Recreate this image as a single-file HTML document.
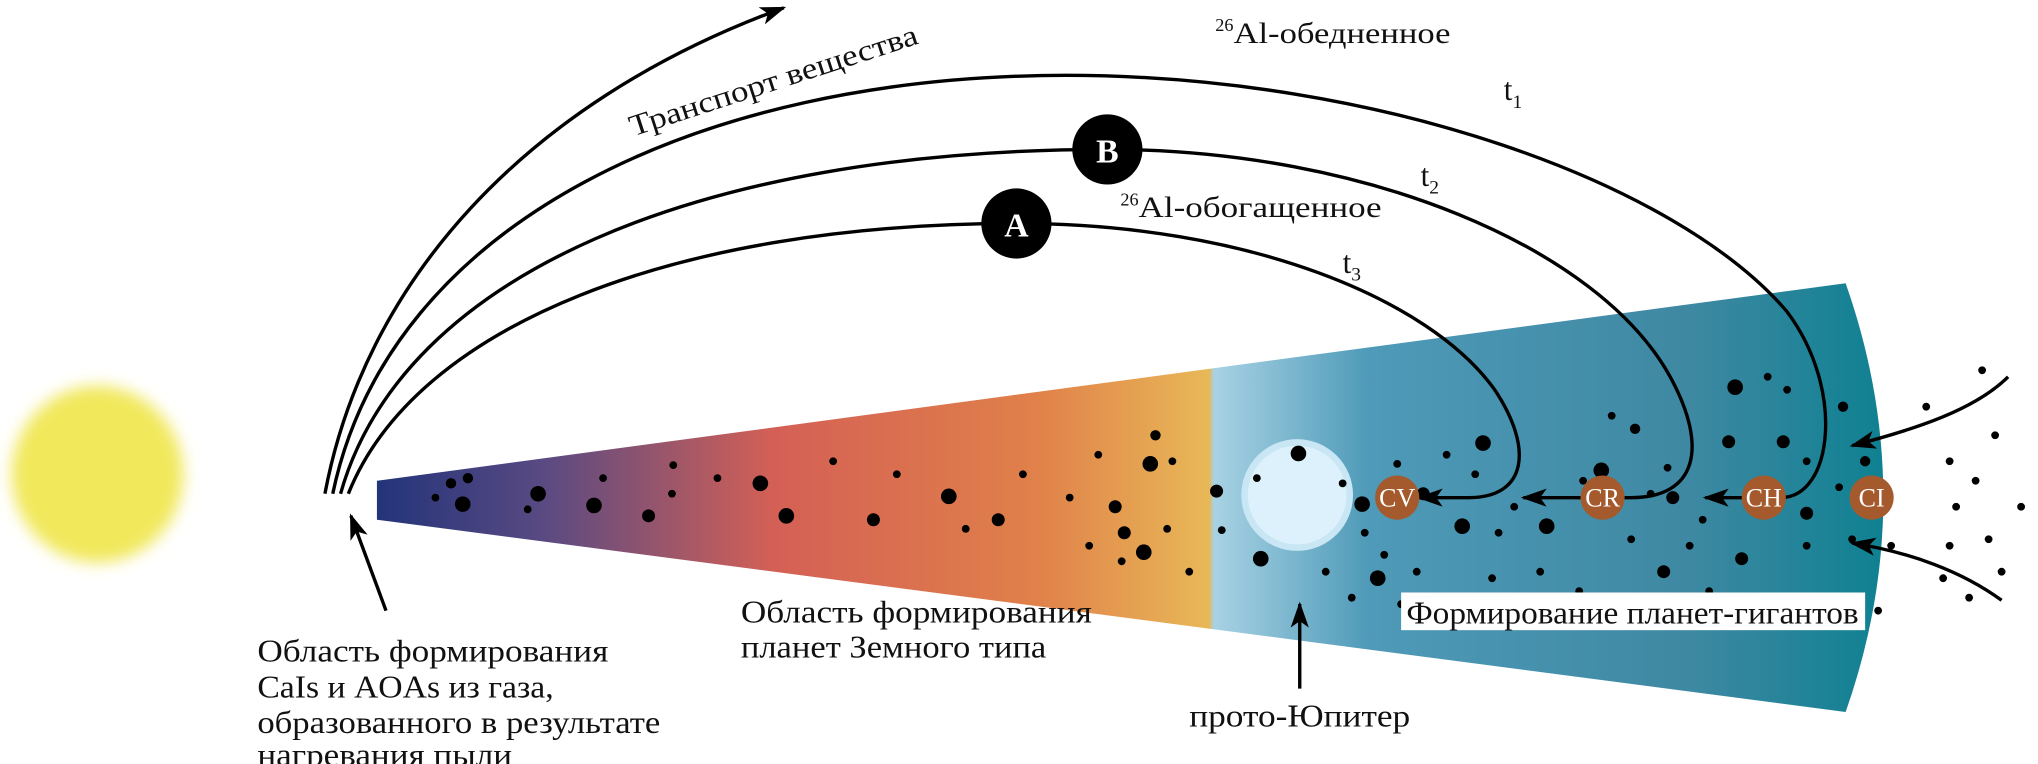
<!DOCTYPE html>
<html><head><meta charset="utf-8"><style>
html,body{margin:0;padding:0;background:#fff;}
svg{display:block;}
text{font-family:"Liberation Serif",serif;fill:#111;}
</style></head><body>
<svg width="2038" height="764" viewBox="0 0 1568 588" preserveAspectRatio="none">
<defs>
<filter id="blur" x="-30%" y="-30%" width="160%" height="160%"><feGaussianBlur stdDeviation="6"/></filter>
<linearGradient id="disk" x1="290" y1="0" x2="1465" y2="0" gradientUnits="userSpaceOnUse">
<stop offset="0" stop-color="#23347a"/>
<stop offset="0.11" stop-color="#5a4a82"/>
<stop offset="0.26" stop-color="#d46055"/>
<stop offset="0.43" stop-color="#e0804a"/>
<stop offset="0.545" stop-color="#e8b857"/>
<stop offset="0.548" stop-color="#a8d2e4"/>
<stop offset="0.65" stop-color="#4e9ab8"/>
<stop offset="0.86" stop-color="#3e88a2"/>
<stop offset="1" stop-color="#0a8090"/>
</linearGradient>
<marker id="ah" viewBox="0 0 20 14" refX="18" refY="7" markerWidth="20" markerHeight="14" markerUnits="userSpaceOnUse" orient="auto">
<path d="M0,0 L20,7 L0,14 L5,7 Z" fill="#000"/>
</marker>
</defs>
<ellipse cx="75" cy="365" rx="66" ry="68" fill="#f1e85c" filter="url(#blur)"/>
<path d="M290,370 L1420,218 Q1478,383 1420,548 L290,400 Z" fill="url(#disk)"/>
<circle cx="998" cy="381" r="43" fill="#c8e6f4"/>
<circle cx="998" cy="381" r="38" fill="#dcf1fb"/>
<g fill="#000">
<circle cx="347" cy="372" r="4"/><circle cx="360" cy="368" r="4"/><circle cx="335" cy="383" r="3"/><circle cx="356" cy="388" r="6"/><circle cx="414" cy="380" r="6"/><circle cx="406" cy="392" r="3"/><circle cx="464" cy="368" r="3"/><circle cx="457" cy="389" r="6"/><circle cx="499" cy="397" r="5"/><circle cx="517" cy="380" r="3"/><circle cx="518" cy="358" r="3"/><circle cx="552" cy="368" r="3"/><circle cx="585" cy="372" r="6"/><circle cx="605" cy="397" r="6"/><circle cx="641" cy="355" r="3"/><circle cx="690" cy="365" r="3"/><circle cx="672" cy="400" r="5"/><circle cx="730" cy="382" r="6"/><circle cx="743" cy="407" r="3"/><circle cx="787" cy="365" r="3"/><circle cx="768" cy="400" r="5"/><circle cx="845" cy="350" r="3"/><circle cx="858" cy="390" r="5"/><circle cx="863" cy="432" r="3"/><circle cx="889" cy="335" r="4"/><circle cx="885" cy="357" r="6"/><circle cx="902" cy="355" r="3"/><circle cx="865" cy="410" r="5"/><circle cx="880" cy="425" r="6"/><circle cx="898" cy="407" r="3"/><circle cx="915" cy="440" r="3"/><circle cx="838" cy="420" r="3"/><circle cx="823" cy="383" r="3"/>
<circle cx="936" cy="378" r="5"/><circle cx="940" cy="408" r="3"/><circle cx="967" cy="368" r="3"/><circle cx="999" cy="349" r="6"/><circle cx="1033" cy="372" r="3"/><circle cx="1048" cy="388" r="6"/><circle cx="1075" cy="357" r="3"/><circle cx="1095" cy="380" r="5"/><circle cx="1113" cy="350" r="3"/><circle cx="1141" cy="341" r="6"/><circle cx="1135" cy="365" r="3"/><circle cx="1050" cy="410" r="3"/><circle cx="1065" cy="427" r="3"/><circle cx="1125" cy="405" r="6"/><circle cx="1153" cy="410" r="3"/><circle cx="1060" cy="445" r="6"/><circle cx="1078" cy="465" r="3"/><circle cx="970" cy="430" r="6"/><circle cx="1020" cy="440" r="3"/><circle cx="1040" cy="460" r="3"/><circle cx="1090" cy="440" r="3"/><circle cx="1148" cy="445" r="3"/><circle cx="1165" cy="390" r="3"/><circle cx="1190" cy="405" r="6"/><circle cx="1185" cy="440" r="3"/><circle cx="1175" cy="460" r="3"/><circle cx="1218" cy="370" r="3"/><circle cx="1232" cy="362" r="6"/><circle cx="1240" cy="320" r="3"/><circle cx="1258" cy="330" r="4"/><circle cx="1230" cy="395" r="4"/><circle cx="1255" cy="415" r="3"/><circle cx="1270" cy="380" r="3"/><circle cx="1283" cy="360" r="3"/><circle cx="1215" cy="455" r="3"/><circle cx="1260" cy="465" r="3"/><circle cx="1280" cy="440" r="5"/><circle cx="1300" cy="420" r="3"/><circle cx="1310" cy="400" r="3"/><circle cx="1287" cy="383" r="5"/><circle cx="1335" cy="298" r="6"/><circle cx="1360" cy="290" r="3"/><circle cx="1375" cy="300" r="3"/><circle cx="1330" cy="340" r="5"/><circle cx="1372" cy="340" r="5"/><circle cx="1390" cy="355" r="3"/><circle cx="1340" cy="430" r="5"/><circle cx="1315" cy="455" r="3"/><circle cx="1370" cy="470" r="6"/><circle cx="1340" cy="475" r="3"/><circle cx="1395" cy="460" r="3"/><circle cx="1418" cy="313" r="4"/><circle cx="1435" cy="355" r="4"/><circle cx="1415" cy="375" r="3"/><circle cx="1425" cy="415" r="3"/><circle cx="1390" cy="395" r="5"/><circle cx="1390" cy="420" r="3"/><circle cx="1445" cy="470" r="3"/><circle cx="1455" cy="420" r="3"/>
<circle cx="1525" cy="285" r="3"/><circle cx="1482" cy="313" r="3"/><circle cx="1535" cy="335" r="3"/><circle cx="1500" cy="355" r="3"/><circle cx="1520" cy="370" r="3"/><circle cx="1505" cy="390" r="3"/><circle cx="1555" cy="390" r="3"/><circle cx="1530" cy="415" r="3"/><circle cx="1500" cy="420" r="3"/><circle cx="1540" cy="440" r="3"/><circle cx="1515" cy="460" r="3"/><circle cx="1495" cy="445" r="3"/>
</g>
<g fill="none" stroke="#000" stroke-width="2.6">
<path d="M250,380 C280,220 400,80 603,6" marker-end="url(#ah)"/>
<path d="M256,380 C300,170 540,58 820,58 C1060,58 1290,140 1375,240 C1420,300 1410,383 1370,383 L1312,383" marker-end="url(#ah)"/>
<path d="M262,380 C310,210 540,115 852,115 C1050,115 1230,190 1285,290 C1315,345 1305,383 1255,383 L1172,383" marker-end="url(#ah)"/>
<path d="M268,380 C320,250 520,172 782,172 C960,172 1100,230 1150,300 C1180,345 1175,383 1130,383 L1092,383" marker-end="url(#ah)"/>
<path d="M1545,290 C1520,315 1475,330 1425,343" marker-end="url(#ah)"/>
<path d="M1540,462 C1510,440 1470,425 1425,418" marker-end="url(#ah)"/>
<path d="M297,470 L270,397" marker-end="url(#ah)"/>
<path d="M1000,530 L1000,465" marker-end="url(#ah)"/>
</g>
<g font-size="20" text-anchor="middle">
<circle cx="1075" cy="383" r="17" fill="#a45a2c"/><text x="1075" y="390" style="fill:#fff">CV</text>
<circle cx="1233" cy="383" r="17" fill="#a45a2c"/><text x="1233" y="390" style="fill:#fff">CR</text>
<circle cx="1357" cy="383" r="17" fill="#a45a2c"/><text x="1357" y="390" style="fill:#fff">CH</text>
<circle cx="1440" cy="383" r="17" fill="#a45a2c"/><text x="1440" y="390" style="fill:#fff">CI</text>
</g>
<circle cx="852" cy="115" r="27" fill="#000"/><text x="852" y="125" font-size="26" font-weight="bold" text-anchor="middle" style="fill:#fff">B</text>
<circle cx="782" cy="172" r="27" fill="#000"/><text x="782" y="182" font-size="26" font-weight="bold" text-anchor="middle" style="fill:#fff">A</text>
<text x="487" y="105" font-size="23" textLength="232" lengthAdjust="spacingAndGlyphs" transform="rotate(-18 487 105)">Транспорт вещества</text>
<text x="935" y="33" font-size="23"><tspan font-size="14" dy="-9">26</tspan><tspan dy="9" textLength="167" lengthAdjust="spacingAndGlyphs">Al-обедненное</tspan></text>
<text x="862" y="167" font-size="23"><tspan font-size="14" dy="-9">26</tspan><tspan dy="9" textLength="187" lengthAdjust="spacingAndGlyphs">Al-обогащенное</tspan></text>
<text x="1157" y="77" font-size="24">t<tspan font-size="15" dy="6">1</tspan></text>
<text x="1093" y="143" font-size="24">t<tspan font-size="15" dy="6">2</tspan></text>
<text x="1033" y="210" font-size="24">t<tspan font-size="15" dy="6">3</tspan></text>
<rect x="1078" y="456" width="357" height="29" fill="#fff"/>
<text x="1082" y="480" font-size="24" textLength="348" lengthAdjust="spacingAndGlyphs">Формирование планет-гигантов</text>
<text x="915" y="559" font-size="24" textLength="170" lengthAdjust="spacingAndGlyphs">прото-Юпитер</text>
<text x="570" y="479" font-size="24" textLength="270" lengthAdjust="spacingAndGlyphs">Область формирования</text>
<text x="570" y="506" font-size="24" textLength="235" lengthAdjust="spacingAndGlyphs">планет Земного типа</text>
<text x="198" y="509" font-size="24" textLength="270" lengthAdjust="spacingAndGlyphs">Область формирования</text>
<text x="198" y="537" font-size="24" textLength="228" lengthAdjust="spacingAndGlyphs">CaIs и AOAs из газа,</text>
<text x="198" y="564" font-size="24" textLength="310" lengthAdjust="spacingAndGlyphs">образованного в результате</text>
<text x="198" y="589" font-size="24" textLength="196" lengthAdjust="spacingAndGlyphs">нагревания пыли</text>
</svg>
</body></html>
